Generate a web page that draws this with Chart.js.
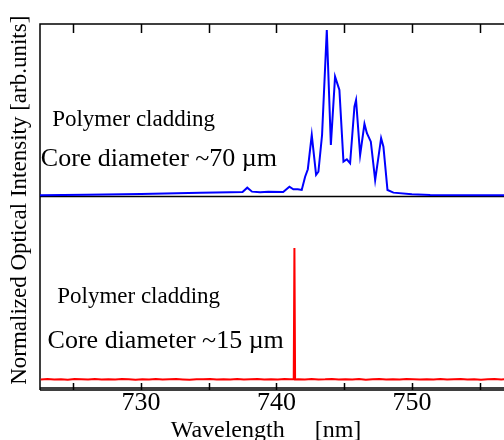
<!DOCTYPE html>
<html>
<head>
<meta charset="utf-8">
<script src="https://cdn.jsdelivr.net/npm/chart.js@4.4.1/dist/chart.umd.min.js"></script>
<style>
html, body { margin: 0; padding: 0; background: #fff; }
</style>
</head>
<body>
<canvas id="mycanvas" width="504" height="440"></canvas>
<script>
// core ~70 um fibre (top panel), normalised to the highest peak
var blueWavelength = [722.5, 726.0, 730.0, 734.4, 736.6, 737.5, 737.85, 738.2, 738.8, 739.4, 740.5,
	740.96, 741.25, 741.58, 741.87, 742.12, 742.32, 742.61, 742.93, 743.10, 743.37, 743.72,
	744.02, 744.33, 744.65, 744.95, 745.20, 745.44, 745.76, 745.88, 746.18, 746.50, 746.68,
	746.97, 747.29, 747.73, 747.90, 748.20, 748.64, 750.0, 751.35, 756.9];
var blueIntensity = [0.004, 0.008, 0.012, 0.020, 0.022, 0.024, 0.050, 0.026, 0.022, 0.026, 0.024,
	0.056, 0.040, 0.040, 0.036, 0.116, 0.161, 0.367, 0.127, 0.146, 0.367, 1.0,
	0.307, 0.719, 0.639, 0.207, 0.221, 0.197, 0.538, 0.578, 0.247, 0.434, 0.378,
	0.327, 0.096, 0.348, 0.297, 0.036, 0.020, 0.010, 0.006, 0.004];

// core ~15 um fibre (bottom panel), single line at ~741.3 nm
var redWavelength = [722.6, 723.1, 723.6, 724.1, 724.6, 725.1, 725.6, 726.1, 726.6, 727.1, 727.6,
	728.1, 728.6, 729.1, 729.6, 730.1, 730.6, 731.1, 731.6, 732.1, 732.6, 733.1, 733.6,
	734.1, 734.6, 735.1, 735.6, 736.1, 736.6, 737.1, 737.6, 738.1, 738.6, 739.1, 739.6,
	740.1, 740.6, 741.0, 741.28, 741.33, 741.38,
	741.6, 742.1, 742.6, 743.1, 743.6, 744.1, 744.6, 745.1, 745.6, 746.1, 746.6, 747.1,
	747.6, 748.1, 748.6, 749.1, 749.6, 750.1, 750.6, 751.1, 751.6, 752.1, 752.6, 753.1,
	753.6, 754.1, 754.6, 755.1, 755.6, 756.1, 756.6, 756.9];
var redIntensity = [0.060, 0.064, 0.061, 0.063, 0.059, 0.064, 0.062, 0.060, 0.065, 0.061, 0.063,
	0.060, 0.064, 0.062, 0.059, 0.063, 0.061, 0.065, 0.060, 0.062, 0.064, 0.061, 0.059,
	0.063, 0.062, 0.065, 0.060, 0.063, 0.061, 0.064, 0.060, 0.062, 0.065, 0.061, 0.063,
	0.060, 0.064, 0.062, 0.063, 1.0, 0.061,
	0.063, 0.060, 0.064, 0.061, 0.062, 0.065, 0.060, 0.063, 0.061, 0.064, 0.059, 0.062,
	0.064, 0.061, 0.063, 0.060, 0.065, 0.062, 0.060, 0.063, 0.061, 0.064, 0.060, 0.062,
	0.065, 0.061, 0.063, 0.059, 0.062, 0.064, 0.061, 0.063];

var tickLabels = [730, 740, 750];

var noteText = ['Polymer cladding', 'Core diameter ~70 \u00b5m', 'Polymer cladding', 'Core diameter ~15 \u00b5m'];
var noteWavelength = [723.45, 722.61, 723.82, 723.11];
var noteLevel = [0.422, 0.181, 0.607, 0.286];
var noteAxis = ['y2', 'y2', 'y', 'y'];

function pts(xs, ys) {
	var out = [];
	for (var i in xs) out.push({x: xs[i], y: ys[i]});
	return out;
}

var framePlugin = {
	id: 'frame',
	beforeDatasetsDraw: function(chart) {
		var ctx = chart.ctx, a = chart.chartArea, x = chart.scales.x, y2 = chart.scales.y2;
		ctx.save();
		ctx.strokeStyle = '#000';
		ctx.lineWidth = 1.5;
		ctx.beginPath();
		ctx.moveTo(a.right, a.top);
		ctx.lineTo(a.left, a.top);
		ctx.lineTo(a.left, a.bottom + 2);
		ctx.moveTo(a.left, a.bottom);
		ctx.lineTo(a.right, a.bottom);
		ctx.moveTo(a.left, a.bottom + 2);
		ctx.lineTo(a.right, a.bottom + 2);
		var sep = Math.round(y2.getPixelForValue(0)) + 0.5;
		ctx.moveTo(a.left, sep);
		ctx.lineTo(a.right, sep);
		x.ticks.forEach(function(t) {
			var px = Math.round(x.getPixelForValue(t.value)) + 0.5;
			ctx.moveTo(px, a.top);
			ctx.lineTo(px, a.top + 9);
			ctx.moveTo(px, a.bottom + 2);
			ctx.lineTo(px, a.bottom - 5);
		});
		ctx.stroke();

		ctx.fillStyle = '#000';
		ctx.textBaseline = 'alphabetic';
		ctx.textAlign = 'left';
		for (var i in noteText) {
			ctx.font = (i % 2 == 0 ? 23 : 26) + 'px "Liberation Serif"';
			ctx.fillText(noteText[i], x.getPixelForValue(noteWavelength[i]), chart.scales[noteAxis[i]].getPixelForValue(noteLevel[i]));
		}
		ctx.restore();
	}
};

var chartdata = {
	datasets: [
		{
			label: 'Core ~70 um',
			data: pts(blueWavelength, blueIntensity),
			borderColor: '#0000ff',
			borderWidth: 2,
			yAxisID: 'y2'
		},
		{
			label: 'Core ~15 um',
			data: pts(redWavelength, redIntensity),
			borderColor: '#ff0000',
			borderWidth: 2,
			yAxisID: 'y'
		}
	]
};

var ctx = document.getElementById('mycanvas');

var spectrum = new Chart(ctx, {
	type: 'line',
	data: chartdata,
	plugins: [framePlugin],
	options: {
		responsive: false,
		animation: false,
		layout: {padding: {top: 24, left: 0, right: 0, bottom: 0}},
		elements: {point: {radius: 0}, line: {tension: 0}},
		plugins: {legend: {display: false}, tooltip: {enabled: false}},
		scales: {
			x: {
				type: 'linear',
				min: 722.55,
				max: 756.8,
				grid: {display: false, drawTicks: false},
				border: {display: false},
				ticks: {
					stepSize: 5,
					includeBounds: false,
					autoSkip: false,
					maxRotation: 0,
					padding: 0,
					color: '#000',
					font: {family: 'Liberation Serif', size: 26},
					callback: function(v) { return tickLabels.indexOf(v) >= 0 ? String(v) : ''; }
				},
				title: {
					display: true,
					text: 'Wavelength     [nm]  ',
					color: '#000',
					padding: 0,
					font: {family: 'Liberation Serif', size: 24, lineHeight: 0.75}
				},
				afterFit: function(s) { s.height = 52; }
			},
			y: {
				min: 0,
				max: 2.6,
				grid: {display: false, drawTicks: false},
				border: {display: false},
				ticks: {display: false},
				title: {
					display: true,
					text: '  Normalized Optical Intensity [arb.units]',
					color: '#000',
					padding: {top: 6, bottom: 0},
					font: {family: 'Liberation Serif', size: 23}
				},
				afterFit: function(s) { s.width = 40; }
			},
			y2: {
				min: -1.157,
				max: 1.036,
				display: false
			}
		}
	}
});
</script>
</body>
</html>
